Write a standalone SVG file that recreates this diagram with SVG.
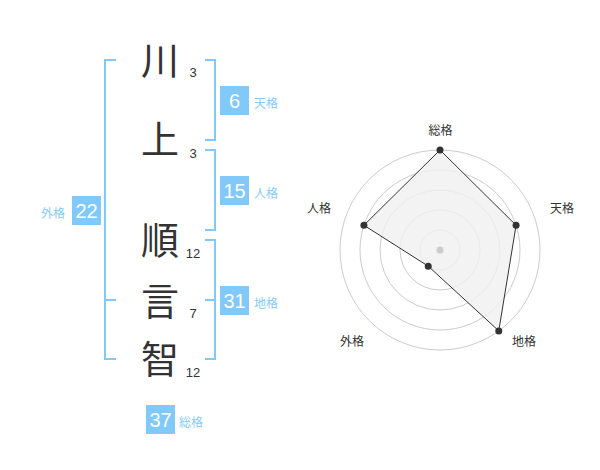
<svg xmlns="http://www.w3.org/2000/svg" width="600" height="470" viewBox="0 0 600 470">
<style>
.kanji{font-family:"Noto Sans CJK JP","Noto Sans CJK SC",sans-serif;font-size:38px;fill:#333;text-anchor:middle}
.cnt{font-family:"Liberation Sans",Arial,sans-serif;font-size:13px;fill:#333;text-anchor:middle}
.box{fill:#80c9f9}
.num{font-family:"Liberation Sans",Arial,sans-serif;font-size:20px;fill:#fff;text-anchor:middle}
.lbl{font-family:"Noto Sans CJK JP","Noto Sans CJK SC",sans-serif;font-size:12px;fill:#86ccf7}
.br{fill:none;stroke:#80c9f9;stroke-width:2}
.ring{fill:none;stroke:#cccccc;stroke-width:1}
.rl{font-family:"Noto Sans CJK JP","Noto Sans CJK SC",sans-serif;font-size:12px;fill:#333;text-anchor:middle}
.dot{fill:#333}
</style>
<rect width="600" height="470" fill="#fff"/>
<g id="connectors">
<path class="br" d="M116,60 H105 V359 H116 M105,300 H116"/>
<path class="br" d="M205,60 H215 V140 H205"/>
<path class="br" d="M205,150 H215 V230 H205"/>
<path class="br" d="M205,240 H215 V359 H205 M205,300 H215"/>
</g>
<g id="name">
<text class="kanji" x="160" y="74">川</text><text class="cnt" x="193" y="77">3</text>
<text class="kanji" x="160" y="153">上</text><text class="cnt" x="193" y="158">3</text>
<text class="kanji" x="160" y="254">順</text><text class="cnt" x="193" y="258">12</text>
<text class="kanji" x="160" y="315">言</text><text class="cnt" x="193" y="318">7</text>
<text class="kanji" x="160" y="373">智</text><text class="cnt" x="193" y="377">12</text>
</g>
<g id="tenkaku">
<rect class="box" x="220" y="86" width="29" height="29"/>
<text class="num" x="234.5" y="108">6</text>
<text class="lbl" x="254" y="108">天格</text>
</g>
<g id="jinkaku">
<rect class="box" x="220" y="176" width="29" height="29"/>
<text class="num" x="234.5" y="198">15</text>
<text class="lbl" x="254" y="198">人格</text>
</g>
<g id="chikaku">
<rect class="box" x="220" y="286" width="29" height="29"/>
<text class="num" x="234.5" y="308">31</text>
<text class="lbl" x="254" y="308">地格</text>
</g>
<g id="gaikaku">
<rect class="box" x="72" y="196" width="29" height="29"/>
<text class="num" x="86.5" y="218">22</text>
<text class="lbl" x="41" y="218">外格</text>
</g>
<g id="soukaku">
<rect class="box" x="146" y="405" width="29" height="29"/>
<text class="num" x="160.5" y="427">37</text>
<text class="lbl" x="179" y="427">総格</text>
</g>
<g id="radar">
<circle class="ring" cx="440" cy="250" r="20"/>
<circle class="ring" cx="440" cy="250" r="40"/>
<circle class="ring" cx="440" cy="250" r="60"/>
<circle class="ring" cx="440" cy="250" r="80"/>
<circle class="ring" cx="440" cy="250" r="100"/>
<polygon points="440,150 516.08,225.28 498.78,330.9 428.24,266.18 363.92,225.28" fill="#f0f0f0" fill-opacity="0.8" stroke="#333" stroke-width="1"/>
<circle cx="440" cy="250" r="3.5" fill="#cccccc"/>
<circle class="dot" cx="440" cy="150" r="3.5"/>
<circle class="dot" cx="516.08" cy="225.28" r="3.5"/>
<circle class="dot" cx="498.78" cy="330.9" r="3.5"/>
<circle class="dot" cx="428.24" cy="266.18" r="3.5"/>
<circle class="dot" cx="363.92" cy="225.28" r="3.5"/>
<text class="rl" x="440.5" y="135">総格</text>
<text class="rl" x="562" y="213">天格</text>
<text class="rl" x="524" y="346">地格</text>
<text class="rl" x="352" y="346">外格</text>
<text class="rl" x="319" y="213">人格</text>
</g>
</svg>
